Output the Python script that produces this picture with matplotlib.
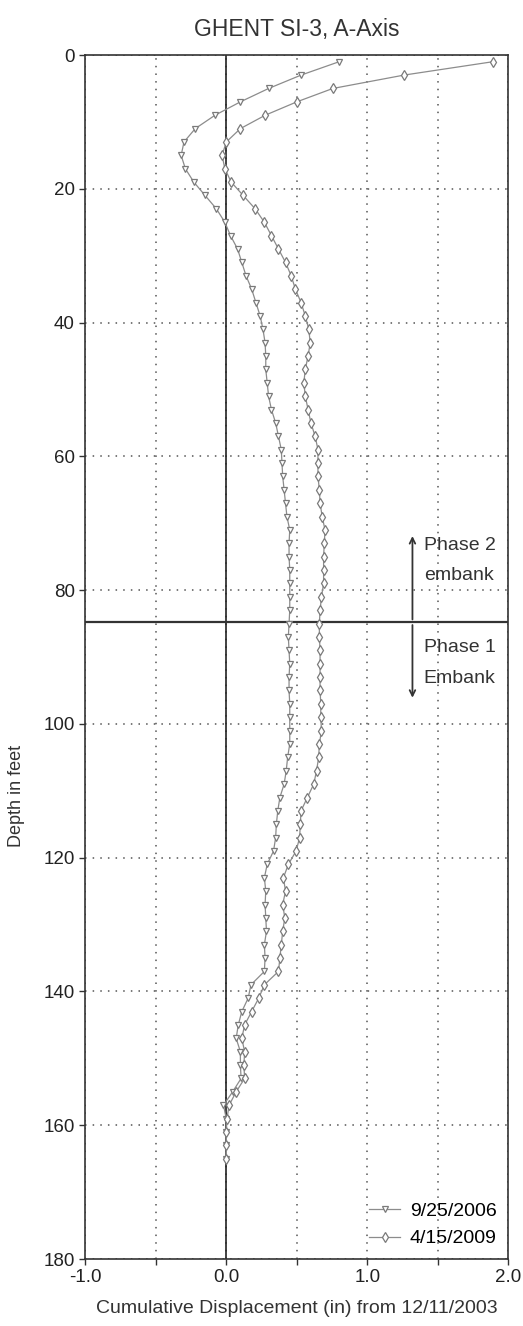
import matplotlib
matplotlib.use('Agg')
import matplotlib.pyplot as plt

plt.rcParams['font.family'] = ['Liberation Sans', 'DejaVu Sans']

# depth readings (ft), every 2 ft
depth = [1, 3, 5, 7, 9, 11, 13, 15, 17, 19,
         21, 23, 25, 27, 29, 31, 33, 35, 37, 39,
         41, 43, 45, 47, 49, 51, 53, 55, 57, 59,
         61, 63, 65, 67, 69, 71, 73, 75, 77, 79,
         81, 83, 85, 87, 89, 91, 93, 95, 97, 99,
         101, 103, 105, 107, 109, 111, 113, 115, 117, 119,
         121, 123, 125, 127, 129, 131, 133, 135, 137, 139,
         141, 143, 145, 147, 149, 151, 153, 155, 157, 159,
         161, 163, 165]

# cumulative displacement (in), 9/25/2006
disp_2006 = [0.80, 0.53, 0.30, 0.10, -0.08, -0.22, -0.30, -0.32, -0.29, -0.23,
             -0.15, -0.07, -0.01, 0.03, 0.08, 0.11, 0.14, 0.18, 0.21, 0.24,
             0.26, 0.275, 0.28, 0.28, 0.29, 0.30, 0.32, 0.35, 0.37, 0.39,
             0.395, 0.40, 0.41, 0.42, 0.43, 0.45, 0.445, 0.445, 0.45, 0.45,
             0.45, 0.45, 0.445, 0.44, 0.445, 0.45, 0.445, 0.445, 0.45, 0.45,
             0.45, 0.45, 0.435, 0.425, 0.41, 0.38, 0.365, 0.355, 0.35, 0.335,
             0.29, 0.27, 0.28, 0.275, 0.28, 0.285, 0.27, 0.275, 0.27, 0.175,
             0.155, 0.11, 0.085, 0.07, 0.10, 0.10, 0.105, 0.045, -0.02, 0.0,
             0.0, 0.0, 0.0]

# cumulative displacement (in), 4/15/2009
disp_2009 = [1.89, 1.26, 0.755, 0.50, 0.276, 0.10, 0.0, -0.03, -0.01, 0.035,
             0.12, 0.205, 0.27, 0.32, 0.37, 0.42, 0.46, 0.49, 0.53, 0.56,
             0.585, 0.595, 0.58, 0.56, 0.55, 0.56, 0.58, 0.60, 0.63, 0.65,
             0.65, 0.65, 0.66, 0.665, 0.68, 0.70, 0.695, 0.69, 0.69, 0.69,
             0.675, 0.665, 0.66, 0.66, 0.665, 0.665, 0.665, 0.665, 0.67, 0.67,
             0.675, 0.66, 0.655, 0.64, 0.62, 0.575, 0.53, 0.525, 0.52, 0.495,
             0.44, 0.405, 0.42, 0.40, 0.415, 0.40, 0.39, 0.38, 0.37, 0.27,
             0.23, 0.18, 0.13, 0.11, 0.13, 0.125, 0.13, 0.07, 0.02, 0.005,
             0.0, 0.0, 0.0]

x_ticks = [-1.0, -0.5, 0.0, 0.5, 1.0, 1.5, 2.0]
x_labels = ['-1.0', '', '0.0', '', '1.0', '', '2.0']
y_ticks = [0, 20, 40, 60, 80, 100, 120, 140, 160, 180]

phase_boundary = 84.8

fig = plt.figure(figsize=(5.23, 13.26), dpi=100)
ax = fig.add_axes([0.163, 0.0505, 0.809, 0.908])

ax.set_xlim(-1.0, 2.0)
ax.set_ylim(180, 0)
ax.set_xticks(x_ticks)
ax.set_xticklabels(x_labels)
ax.set_yticks(y_ticks)
ax.tick_params(labelsize=13.5, color='#333', length=4, width=1, colors='#222')
ax.grid(True, linestyle=(0, (1, 4)), color='#555', linewidth=1.1)
for sp in ax.spines.values():
    sp.set_color('#333')
    sp.set_linewidth(1.2)

ax.axvline(0, color='#222', linewidth=1.2, zorder=2)
ax.axhline(phase_boundary, color='#333', linewidth=1.6, zorder=2)

ax.plot(disp_2006, depth, color='#8c8c8c', linewidth=0.9, marker='v',
        markersize=5, markerfacecolor='white', markeredgecolor='#7a7a7a',
        markeredgewidth=0.9, label='9/25/2006', zorder=3)
ax.plot(disp_2009, depth, color='#8c8c8c', linewidth=0.9, marker='d',
        markersize=5, markerfacecolor='white', markeredgecolor='#7a7a7a',
        markeredgewidth=0.9, label='4/15/2009', zorder=3)

# hand-written notes about the embankment phases
ax.annotate('', xy=(1.32, 71.5), xytext=(1.32, phase_boundary),
            arrowprops=dict(arrowstyle='->', color='#333', lw=1.3))
ax.annotate('', xy=(1.32, 96.5), xytext=(1.32, phase_boundary),
            arrowprops=dict(arrowstyle='->', color='#333', lw=1.3))
ax.text(1.40, 73.3, 'Phase 2', fontsize=14, color='#333', va='center')
ax.text(1.40, 77.8, 'embank', fontsize=14, color='#333', va='center')
ax.text(1.40, 88.6, 'Phase 1', fontsize=14, color='#333', va='center')
ax.text(1.40, 93.2, 'Embank', fontsize=14, color='#333', va='center')

ax.set_title('GHENT SI-3, A-Axis', fontsize=16.5, color='#333', pad=14)
ax.set_xlabel('Cumulative Displacement (in) from 12/11/2003', fontsize=14,
              color='#333', labelpad=10)
ax.set_ylabel('Depth in feet', fontsize=13, color='#333')
ax.yaxis.set_label_coords(-0.142, 0.385)

ax.legend(loc='lower right', frameon=False, fontsize=14, handlelength=1.6,
          borderaxespad=0.2, labelspacing=0.5, handletextpad=0.5)

fig.savefig('out.png', dpi=100)
